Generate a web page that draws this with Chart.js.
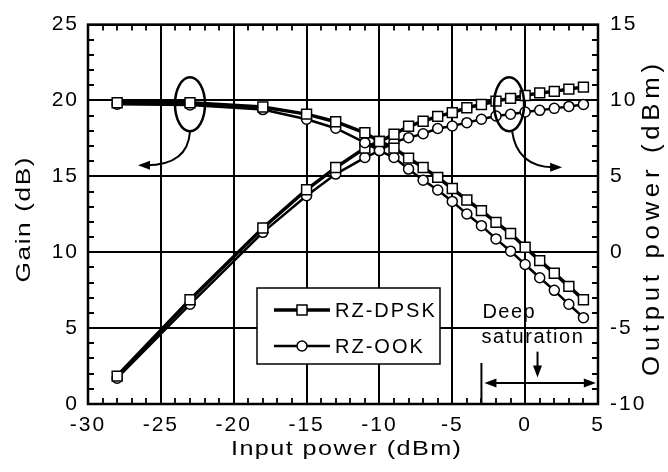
<!DOCTYPE html>
<html>
<head>
<meta charset="utf-8">
<script src="https://cdn.jsdelivr.net/npm/chart.js@4.4.1/dist/chart.umd.min.js"></script>
<style>
html,body{margin:0;padding:0;background:#fff;}
</style>
</head>
<body>
<canvas id="myChart" width="668" height="472"></canvas>
<script>
// input power (dBm)
const inputPower = [-28,-23,-18,-15,-13,-11,-10,-9,-8,-7,-6,-5,-4,-3,-2,-1,0,1,2,3,4];
// gain (dB)
const gainDPSK = [19.85,19.85,19.57,19.1,18.6,17.87,17.3,16.86,16.2,15.58,14.93,14.2,13.44,12.74,11.97,11.23,10.33,9.45,8.62,7.75,6.87];
const gainOOK  = [19.75,19.7,19.4,18.76,18.17,17.22,16.7,16.24,15.48,14.75,14.1,13.35,12.52,11.75,10.88,10.07,9.19,8.32,7.49,6.57,5.69];
// output power (dBm)
const outDPSK = [-8.16,-3.13,1.6,4.12,5.58,6.86,7.3,7.77,8.3,8.63,8.95,9.2,9.52,9.74,9.96,10.14,10.33,10.5,10.6,10.75,10.88];
const outOOK  = [-8.3,-3.43,1.31,3.72,5.15,6.24,6.7,7.25,7.55,7.81,8.15,8.32,8.54,8.76,8.98,9.09,9.24,9.35,9.48,9.61,9.74];
const legendLabels = ['RZ-DPSK','RZ-OOK'];

const FONT = 'Liberation Sans, Arial, sans-serif';
const pts = (ys) => inputPower.map((x,i) => ({x:x, y:ys[i]}));

function makeSet(label, ys, axis, style){
  return {
    label: label,
    data: pts(ys),
    yAxisID: axis,
    showLine: true,
    borderColor: '#000',
    borderWidth: style === 'rect' ? 3.5 : 2.5,
    pointStyle: style,
    pointRadius: style === 'rect' ? 7 : 5,
    pointBorderWidth: 1.5,
    pointBackgroundColor: '#fff',
    pointBorderColor: '#000',
    tension: 0
  };
}

// wider letter spacing for tick text, like the original figure
const spacing = {
  id:'spacing',
  beforeUpdate(chart){ chart.ctx.letterSpacing = '2px'; },
  beforeDraw(chart){ chart.ctx.letterSpacing = '2px'; }
};

// frame + inner minor ticks
const frameTicks = {
  id:'frameTicks',
  beforeDatasetsDraw(chart){
    const {ctx, chartArea:{top,bottom,left,right}, scales:{x,y,y2}} = chart;
    ctx.save();
    ctx.strokeStyle = '#000';
    ctx.lineWidth = 1.8;
    ctx.beginPath();
    for(let v=-30; v<=5; v++){
      const px = Math.round(x.getPixelForValue(v));
      ctx.moveTo(px, bottom); ctx.lineTo(px, bottom-6);
      ctx.moveTo(px, top); ctx.lineTo(px, top+6);
    }
    for(let v=0; v<=25; v++){
      const py = Math.round(y.getPixelForValue(v));
      ctx.moveTo(left, py); ctx.lineTo(left+6, py);
    }
    for(let v=-10; v<=15; v++){
      const py = Math.round(y2.getPixelForValue(v));
      ctx.moveTo(right, py); ctx.lineTo(right-6, py);
    }
    ctx.stroke();
    ctx.lineWidth = 2.5;
    ctx.strokeRect(left, top, right-left, bottom-top);
    ctx.restore();
  }
};

function arrowHead(ctx, x, y, ang){
  ctx.beginPath();
  ctx.moveTo(x, y);
  ctx.lineTo(x - 12*Math.cos(ang) + 4.5*Math.sin(ang), y - 12*Math.sin(ang) - 4.5*Math.cos(ang));
  ctx.lineTo(x - 12*Math.cos(ang) - 4.5*Math.sin(ang), y - 12*Math.sin(ang) + 4.5*Math.cos(ang));
  ctx.closePath();
  ctx.fill();
}

// title text: a bit widened (k), the rest of the length made up by letter spacing
function wideText(ctx, text, size, cx, cy, len, k, rot){
  ctx.save();
  ctx.font = size + 'px ' + FONT;
  ctx.translate(cx, cy);
  ctx.rotate(rot);
  ctx.letterSpacing = '0px';
  const w0 = ctx.measureText(text).width;
  const sp = (len / k - w0) / (text.length - 1);
  ctx.letterSpacing = sp + 'px';
  ctx.scale(k, 1);
  ctx.textAlign = 'left';
  ctx.textBaseline = 'middle';
  ctx.fillText(text, -len / k / 2, 0);
  ctx.restore();
}

// axis titles, legend box and annotations
const notes = {
  id:'notes',
  afterDraw(chart){
    const {ctx, scales:{x,y}} = chart;
    ctx.save();
    ctx.strokeStyle = '#000';
    ctx.fillStyle = '#000';

    wideText(ctx, 'Input power (dBm)', 21, 346, 449, 230, 1.2, 0);
    wideText(ctx, 'Gain (dB)', 21, 24, 220, 125, 1.25, -Math.PI/2);
    wideText(ctx, 'Output power (dBm)', 23, 653, 220, 312, 1.12, -Math.PI/2);

    // ellipses + curved arrows
    ctx.lineWidth = 2.5;
    const e1x = x.getPixelForValue(-23), e1y = y.getPixelForValue(19.75);
    const e2x = x.getPixelForValue(-1.1), e2y = e1y;
    ctx.beginPath(); ctx.ellipse(e1x, e1y, 15, 27, 0, 0, Math.PI*2); ctx.stroke();
    ctx.beginPath(); ctx.ellipse(e2x, e2y, 15, 27, 0, 0, Math.PI*2); ctx.stroke();
    ctx.lineWidth = 2;
    ctx.beginPath();
    ctx.moveTo(e1x, e1y+27);
    ctx.quadraticCurveTo(e1x-2, e1y+61, e1x-44, e1y+61);
    ctx.stroke();
    arrowHead(ctx, e1x-52, e1y+61, Math.PI);
    ctx.beginPath();
    ctx.moveTo(e2x+3, e2y+27);
    ctx.quadraticCurveTo(e2x+8, e2y+62, e2x+44, e2y+63);
    ctx.stroke();
    arrowHead(ctx, e2x+53, e2y+63, 0);

    // deep saturation marks
    const sx = x.getPixelForValue(-3);
    ctx.lineWidth = 2;
    ctx.beginPath();
    ctx.moveTo(sx, y.getPixelForValue(2.7)); ctx.lineTo(sx, y.getPixelForValue(0));
    ctx.stroke();
    const hy = y.getPixelForValue(1.38);
    const hx1 = sx + 3, hx2 = x.getPixelForValue(4.85);
    ctx.beginPath(); ctx.moveTo(hx1+8, hy); ctx.lineTo(hx2-8, hy); ctx.stroke();
    arrowHead(ctx, hx1, hy, Math.PI);
    arrowHead(ctx, hx2, hy, 0);
    const dx = x.getPixelForValue(0.85);
    ctx.beginPath();
    ctx.moveTo(dx, y.getPixelForValue(3.45)); ctx.lineTo(dx, y.getPixelForValue(2.1));
    ctx.stroke();
    arrowHead(ctx, dx, y.getPixelForValue(1.75), Math.PI/2);

    ctx.font = '20px ' + FONT;
    ctx.letterSpacing = '1.5px';
    ctx.textAlign = 'left';
    ctx.textBaseline = 'middle';
    ctx.fillText('Deep', sx+1, 312);
    ctx.fillText('saturation', sx, 337);

    // legend
    ctx.fillStyle = '#fff';
    ctx.fillRect(257, 288, 183, 76);
    ctx.lineWidth = 1.5;
    ctx.strokeRect(257, 288, 183, 76);
    ctx.letterSpacing = '2px';
    const rows = [310, 346];
    legendLabels.forEach((lab, i) => {
      const ry = rows[i];
      ctx.lineWidth = i === 0 ? 3.5 : 2.5;
      ctx.beginPath(); ctx.moveTo(274, ry); ctx.lineTo(330, ry); ctx.stroke();
      ctx.lineWidth = 1.5;
      ctx.fillStyle = '#fff';
      ctx.beginPath();
      if(i === 0) ctx.rect(297, ry-5, 10, 10);
      else ctx.arc(302, ry, 5, 0, Math.PI*2);
      ctx.fill(); ctx.stroke();
      ctx.fillStyle = '#000';
      ctx.fillText(lab, 335, ry+1);
    });
    ctx.restore();
  }
};

const tickFont = {family: FONT, size: 21};

const config = {
  type: 'line',
  data: {
    datasets: [
      makeSet('Gain RZ-DPSK', gainDPSK, 'y', 'rect'),
      makeSet('Gain RZ-OOK', gainOOK, 'y', 'circle'),
      makeSet('Out RZ-DPSK', outDPSK, 'y2', 'rect'),
      makeSet('Out RZ-OOK', outOOK, 'y2', 'circle')
    ]
  },
  options: {
    responsive: false,
    animation: false,
    devicePixelRatio: 1,
    layout: {padding: {top: 23, left: 0, right: 0, bottom: 0}},
    plugins: {legend: {display: false}, tooltip: {enabled: false}},
    scales: {
      x: {
        type: 'linear', min: -30, max: 5,
        afterFit(s){ s.height = 68; },
        ticks: {stepSize: 5, color: '#000', font: tickFont, padding: 9, maxRotation: 0},
        grid: {color: '#000', lineWidth: 2, drawTicks: false},
        border: {display: false}
      },
      y: {
        position: 'left', min: 0, max: 25,
        afterFit(s){ s.width = 88; },
        ticks: {stepSize: 5, color: '#000', font: tickFont, padding: 9},
        grid: {color: '#000', lineWidth: 2, drawTicks: false},
        border: {display: false}
      },
      y2: {
        position: 'right', min: -10, max: 15,
        afterFit(s){ s.width = 70; },
        ticks: {stepSize: 5, color: '#000', font: tickFont, padding: 12},
        grid: {display: false, drawTicks: false},
        border: {display: false}
      }
    }
  },
  plugins: [spacing, frameTicks, notes]
};

const myChart = new Chart(document.getElementById('myChart'), config);
</script>
</body>
</html>
